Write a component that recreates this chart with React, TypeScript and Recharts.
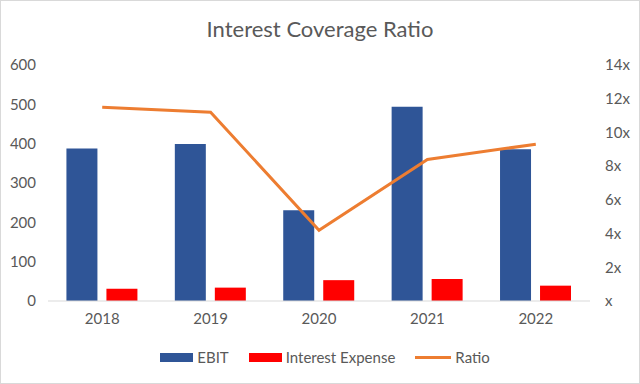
import { Bar, ComposedChart, Line, XAxis, YAxis } from "recharts";

const years = ["2018", "2019", "2020", "2021", "2022"];
const ebit = [388, 399, 231, 494, 386];
const interestExpense = [31, 34, 53, 56, 39];
const ratio = [11.5, 11.2, 4.2, 8.4, 9.3];

const leftTicks = [0, 100, 200, 300, 400, 500, 600];
const rightTicks = [0, 2, 4, 6, 8, 10, 12, 14];

const FONT = "Lato, 'Open Sans', sans-serif";
const GREY = "#595959";

const data = years.map((year, i) => ({
  year,
  ebit: ebit[i],
  interest: interestExpense[i],
  ratio: ratio[i],
}));

const legendItems = [
  { label: "EBIT", color: "#2F5597", kind: "bar" },
  { label: "Interest Expense", color: "#FF0000", kind: "bar" },
  { label: "Ratio", color: "#ED7D31", kind: "line" },
];

const ChartLegend = () => (
  <div
    style={{
      display: "flex",
      justifyContent: "center",
      alignItems: "center",
      gap: 20,
      fontFamily: FONT,
      fontSize: 15,
      color: GREY,
      marginLeft: 10,
    }}
  >
    {legendItems.map((item) => (
      <div key={item.label} style={{ display: "flex", alignItems: "center" }}>
        <span
          style={{
            display: "inline-block",
            width: item.kind === "bar" ? 33 : 36,
            height: item.kind === "bar" ? 9 : 3,
            background: item.color,
            marginRight: 4,
          }}
        />
        {item.label}
      </div>
    ))}
  </div>
);

export default function App() {
  return (
    <div
      style={{
        position: "absolute",
        left: 0,
        top: 0,
        width: 640,
        height: 384,
        background: "#fff",
        boxSizing: "border-box",
        border: "1px solid #d9d9d9",
        overflow: "hidden",
      }}
    >
      <div
        style={{
          position: "absolute",
          top: 14,
          width: "100%",
          textAlign: "center",
          fontFamily: FONT,
          fontSize: 22,
          color: GREY,
        }}
      >
        Interest Coverage Ratio
      </div>
      <div style={{ position: "absolute", left: -1, top: -1 }}>
        <ComposedChart
          width={640}
          height={384}
          data={data}
          margin={{ top: 65, right: 0, bottom: 37, left: 0 }}
          barCategoryGap="17%"
          barGap={9}
        >
          <XAxis
            dataKey="year"
            height={46}
            tickLine={false}
            axisLine={{ stroke: "#d9d9d9" }}
            tickMargin={6}
            tick={{ fill: GREY, fontSize: 15, fontFamily: FONT }}
          />
          <YAxis
            yAxisId="left"
            width={48}
            domain={[0, 600]}
            ticks={leftTicks}
            tickLine={false}
            axisLine={false}
            tickMargin={6}
            tick={{ fill: GREY, fontSize: 15, fontFamily: FONT }}
          />
          <YAxis
            yAxisId="right"
            orientation="right"
            width={50}
            domain={[0, 14]}
            ticks={rightTicks}
            tickLine={false}
            axisLine={false}
            tickMargin={9}
            tickFormatter={(v: number) => (v === 0 ? "x" : `${v}x`)}
            tick={{ fill: GREY, fontSize: 15, fontFamily: FONT, textAnchor: "start" }}
          />
          <Bar
            yAxisId="left"
            dataKey="ebit"
            name="EBIT"
            fill="#2F5597"
            isAnimationActive={false}
          />
          <Bar
            yAxisId="left"
            dataKey="interest"
            name="Interest Expense"
            fill="#FF0000"
            isAnimationActive={false}
          />
          <Line
            yAxisId="right"
            dataKey="ratio"
            name="Ratio"
            stroke="#ED7D31"
            strokeWidth={3}
            dot={false}
            type="linear"
            isAnimationActive={false}
          />
        </ComposedChart>
      </div>
      <div style={{ position: "absolute", top: 347, width: "100%" }}>
        <ChartLegend />
      </div>
    </div>
  );
}
